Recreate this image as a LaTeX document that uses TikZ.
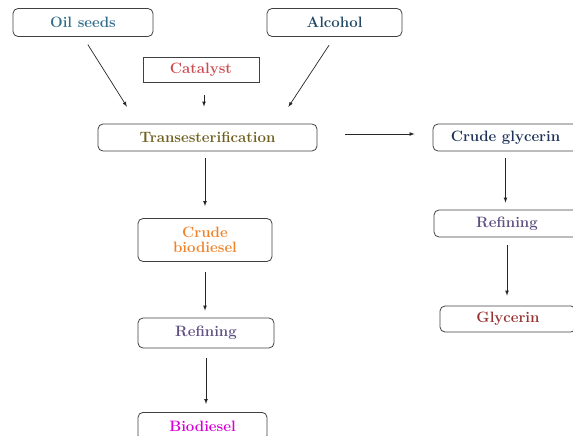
\documentclass[tikz,border=0pt]{standalone}
\usetikzlibrary{positioning}

\definecolor{oilcol}{RGB}{49,110,140}
\definecolor{alccol}{RGB}{33,72,100}
\definecolor{catcol}{RGB}{205,75,80}
\definecolor{transcol}{RGB}{110,95,30}
\definecolor{glycol}{RGB}{30,50,90}
\definecolor{refcol}{RGB}{95,80,130}
\definecolor{glycerincol}{RGB}{150,50,50}
\definecolor{crudecol}{RGB}{240,130,40}
\definecolor{biocol}{RGB}{215,0,215}

\begin{document}
\begin{tikzpicture}[x=1pt,y=-1pt,
    main/.style = {draw=black!75, line width=0.8pt, rounded corners=5pt, align=center,
                   inner sep=0pt, font=\fontsize{15}{15}\selectfont\bfseries},
    plain/.style = {main, rounded corners=0pt},
    arr/.style = {-latex, draw=black!85, line width=0.7pt}]
                        \clip (0,0) rectangle (573,436);

                        \node[main, minimum width=140pt, minimum height=28pt, text=oilcol](oil) at (83,22.5){Oil seeds};
                        \node[main, minimum width=135pt, minimum height=28pt, text=alccol](alcohol) at (334.5,22.5){Alcohol};
                        \node[plain, minimum width=116pt, minimum height=25pt, text=catcol](catalyst) at (201,69.5){Catalyst};
                        \node[main, minimum width=219pt, minimum height=27pt, text=transcol](trans) at (207.5,137.5){Transesterification};

                        \node[main, minimum width=134pt, minimum height=43pt, text=crudecol](crudebio) at (205,240){Crude\\biodiesel};
                        \node[main, minimum width=136pt, minimum height=30pt, text=refcol](refbio) at (206,333){Refining};
                        \node[main, minimum width=129pt, minimum height=28pt, text=biocol, anchor=north](biodiesel) at (202.5,412){Biodiesel};

                        \node[main, minimum width=145pt, minimum height=27pt, text=glycol](crudegly) at (505.5,137.5){Crude glycerin};
                        \node[main, minimum width=146pt, minimum height=27pt, text=refcol](refgly) at (507,223.5){Refining};
                        \node[main, minimum width=136pt, minimum height=26pt, text=glycerincol](glycerin) at (508,319){Glycerin};

                        \draw[arr, shorten <=9pt, shorten >=20pt] (oil.south) -- ([xshift=40pt]trans.north west);
                        \draw[arr, shorten <=10pt, shorten >=20pt] (alcohol.south) -- ([xshift=-40pt]trans.north east);
                        \draw[arr, shorten <=13pt, shorten >=17pt] ([xshift=3pt]catalyst.south) -- ([xshift=3pt]catalyst.south |- trans.north);

                        \draw[arr, shorten <=7pt, shorten >=12pt] (crudebio.north |- trans.south) -- (crudebio.north);
                        \draw[arr, shorten <=10pt, shorten >=7pt] (crudebio.south) -- (crudebio.south |- refbio.north);
                        \draw[arr, shorten <=10pt, shorten >=8pt] (refbio.south) -- (refbio.south |- biodiesel.north);

                        \draw[arr, shorten <=28pt, shorten >=18pt] ([yshift=3.5pt]trans.east) -- ([yshift=3.5pt]trans.east -| crudegly.west);
                        \draw[arr, shorten <=7pt, shorten >=7pt] (crudegly.south) -- (crudegly.south |- refgly.north);
                        \draw[arr, shorten <=8pt, shorten >=10pt] (refgly.south) -- (refgly.south |- glycerin.north);
                    \end{tikzpicture}
\end{document}
